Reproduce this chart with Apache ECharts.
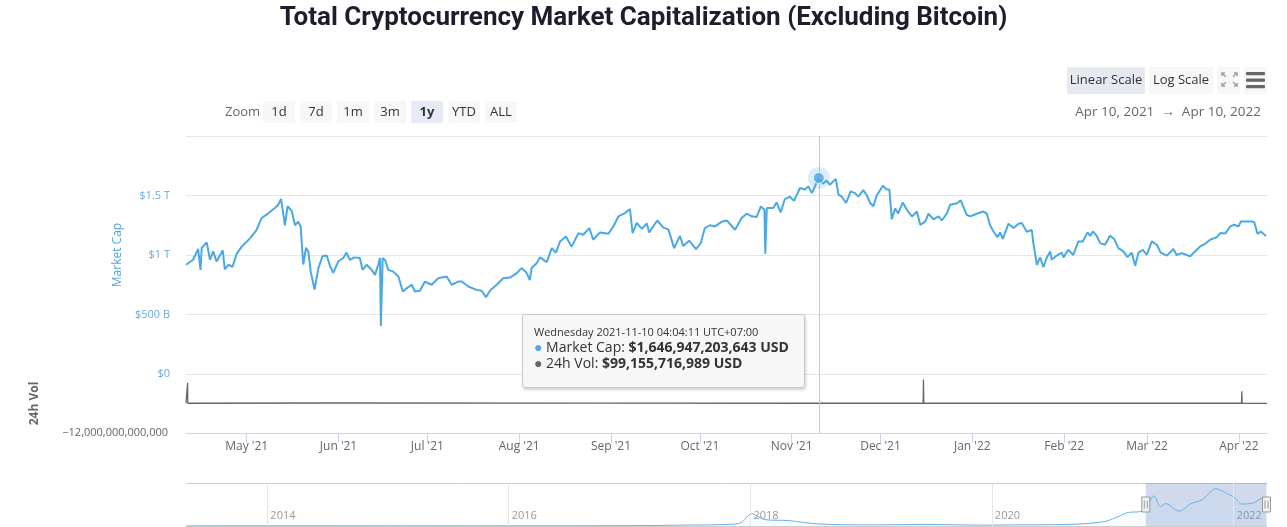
<!DOCTYPE html>
<html>
<head>
<meta charset="utf-8">
<script src="https://cdn.jsdelivr.net/npm/echarts@6/dist/echarts.min.js"></script>
<style>
html,body{margin:0;padding:0;background:#fff}
#c{width:1287px;height:527px}
</style>
</head>
<body>
<div id="c"></div>
<script>
// ---------------- DATA ----------------
// Market cap (excluding BTC), in trillions USD; time as days since 2021-04-10 00:00
const capDay = [0.5,2.9,4.6,5.4,5.8,7.5,8.6,9.7,10.8,12.9,13.6,14.8,16.2,17.6,19.3,22.1,24.3,26.0,28.3,30.5,31.6,32.6,33.9,34.8,36.2,37.3,38.4,39.2,40.1,41.0,41.8,42.6,43.9,45.2,46.6,48.0,49.1,50.2,51.9,53.6,54.7,55.8,57.5,59.2,60.1,61.5,63.2,64.3,65.4,66.0,66.3,66.9,67.7,68.8,70.5,72.2,73.7,75.0,76.7,77.8,79.5,81.2,83.4,85.7,88.5,90.2,92.4,
93.6,95.8,98.6,100.3,101.8,103.1,105.4,107.6,109.9,112.2,113.8,115.5,116.6,117.2,118.9,120.0,122.3,124.0,125.4,126.8,128.8,130.7,133.0,134.6,136.7,138.0,140.3,143.1,144.8,146.5,148.7,150.4,151.3,152.7,154.4,156.1,156.9,159.6,161.7,163.4,165.3,167.3,168.4,170.4,172.7,174.3,175.7,177.4,179.1,181.4,
183.1,185.9,188.1,189.8,191.5,193.2,194.6,195.8,196.1,196.6,198.8,199.9,201.3,202.7,204.4,205.8,207.8,209.5,210.6,211.8,214.17,215.5,216.8,217.9,219.9,220.8,221.9,223.4,224.9,226.4,227.5,229.2,230.4,231.5,232.6,233.7,235.8,237.1,238.0,238.8,239.9,241.0,242.5,243.9,245.6,247.3,248.4,250.1,251.2,252.9,254.6,255.7,257.4,258.5,260.8,262.1,264.1,265.3,267.5,269.7,270.9,272.0,273.1,274.5,
275.4,276.3,278.2,279.9,281.6,282.7,284.4,286.1,286.6,287.8,288.9,290.0,291.1,292.3,292.8,294.5,296.2,296.8,298.4,300.1,301.8,303.3,304.9,305.8,306.7,308.0,309.2,310.8,312.5,313.9,315.3,317.0,318.4,319.8,321.0,322.1,323.6,324.9,326.6,328.3,329.6,331.7,333.9,335.0,336.7,338.4,339.5,341.2,342.9,344.6,346.3,348.6,349.7,351.4,353.1,354.4,355.9,356.7,358.1,360.4,361.2,362.3,363.4,364.3,365.2];
const capT = [0.918,0.96,1.05,0.875,1.06,1.105,0.96,1.03,0.945,1.04,0.88,0.918,0.90,1.01,1.07,1.14,1.21,1.31,1.35,1.395,1.42,1.47,1.25,1.41,1.37,1.25,1.28,1.24,0.92,1.06,1.03,0.86,0.71,0.89,0.99,0.995,0.91,0.85,0.945,0.975,1.02,0.96,0.98,0.974,0.875,0.918,0.875,0.833,0.918,0.974,0.404,0.974,0.96,0.875,0.86,0.82,0.693,0.72,0.75,0.693,0.70,0.777,0.75,0.805,0.82,0.75,0.777,
0.777,0.735,0.707,0.70,0.645,0.70,0.75,0.805,0.81,0.848,0.89,0.85,0.79,0.89,0.93,0.98,0.94,1.058,1.02,1.114,1.156,1.07,1.184,1.17,1.226,1.128,1.19,1.178,1.24,1.324,1.352,1.386,1.184,1.27,1.22,1.265,1.19,1.29,1.23,1.215,1.058,1.16,1.075,1.12,1.05,1.10,1.226,1.25,1.24,1.28,
1.29,1.212,1.31,1.347,1.325,1.32,1.408,1.38,1.01,1.394,1.394,1.442,1.358,1.47,1.49,1.455,1.563,1.55,1.577,1.52,1.646947,1.60,1.625,1.59,1.64,1.507,1.49,1.437,1.535,1.52,1.49,1.545,1.50,1.437,1.41,1.50,1.582,1.55,1.55,1.30,1.39,1.35,1.442,1.38,1.324,1.366,1.254,1.28,1.347,1.30,1.325,1.29,1.347,1.422,1.435,1.459,1.338,1.325,1.347,1.366,1.347,1.25,1.20,1.15,
1.19,1.135,1.263,1.226,1.263,1.268,1.196,1.21,1.10,0.918,0.98,0.898,0.975,1.03,0.96,0.995,1.02,0.98,1.044,1.0,1.114,1.114,1.19,1.16,1.198,1.16,1.10,1.086,1.162,1.135,1.058,1.03,0.982,1.02,0.909,1.02,1.044,1.0,1.114,1.086,1.02,0.995,1.05,1.0,1.016,1.0,0.988,1.03,1.072,1.094,1.128,1.15,1.184,1.18,1.24,1.254,1.24,1.282,1.282,1.282,1.275,1.178,1.198,1.178,1.16];

// 24h volume, trillions USD (with the data spikes visible in the pane)
const volDay = [0.5,1.0,1.05,1.1,50,140,214.17,249.4,249.5,249.6,300,356.9,357.0,357.1,365.5];
const volT   = [0.1,0.1,8.4,0.1,0.2,0.12,0.099155716989,0.1,9.8,0.1,0.1,0.1,5.0,0.1,0.07];

// Navigator: full history, trillions USD
const navDate = ['2013-04-30','2014-01-01','2015-01-01','2016-01-01','2016-09-01','2017-03-01','2017-06-01','2017-10-01','2017-12-01','2018-01-05','2018-01-20','2018-02-15','2018-04-25','2018-07-25','2019-01-05','2019-06-15','2019-11-25','2020-03-10','2020-08-15','2020-12-05','2021-01-25','2021-02-17','2021-04-01','2021-05-05','2021-05-25','2021-06-10','2021-07-20','2021-08-25','2021-09-28','2021-11-08','2021-12-10','2022-01-05','2022-01-25','2022-03-01','2022-04-01','2022-04-10'];
const navT = [0.003,0.008,0.004,0.006,0.01,0.02,0.04,0.06,0.13,0.55,0.45,0.28,0.24,0.09,0.05,0.07,0.04,0.05,0.07,0.19,0.47,0.6,0.66,1.33,0.86,0.99,0.66,0.99,1.16,1.65,1.45,1.25,0.97,1.02,1.25,1.16];

// Tick labels
const monthTicks = ['2021-05-01','2021-06-01','2021-07-01','2021-08-01','2021-09-01','2021-10-01','2021-11-01','2021-12-01','2022-01-01','2022-02-01','2022-03-01','2022-04-01'];
const monthLabels = ["May '21","Jun '21","Jul '21","Aug '21","Sep '21","Oct '21","Nov '21","Dec '21","Jan '22","Feb '22","Mar '22","Apr '22"];
const capTicks = [0, 0.5, 1, 1.5, 2];
const capTickLabels = ['$0', '$500 B', '$1 T', '$1.5 T', ''];
const navYears = ['2014-01-01','2016-01-01','2018-01-01','2020-01-01','2022-01-01'];
const navYearLabels = ['2014','2016','2018','2020','2022'];

// Tooltip contents (hovered point)
const tipDay = 214.17;
const tipTime = 'Wednesday 2021-11-10 04:04:11 UTC+07:00';
const tipCap = 1646947203643;
const tipVol = 99155716989;

// Range
const rangeStartDay = 0.5, rangeEndDay = 365.5;
const rangeText = ['Apr 10, 2021', 'Apr 10, 2022'];

// ---------------- HELPERS ----------------
function ts(s) {
  const m = s.match(/(\d+)-(\d+)-(\d+)(?: (\d+):(\d+))?/);
  return new Date(+m[1], +m[2] - 1, +m[3], +(m[4] || 0), +(m[5] || 0)).getTime();
}
const base = ts('2021-04-10');
const dayTs = d => base + d * 864e5;
const xMin = dayTs(rangeStartDay), xMax = dayTs(rangeEndDay);
const monthTs = monthTicks.map(ts);
const navYearTs = navYears.map(ts);
const tipIdx = capDay.indexOf(tipDay);
const tipTs = dayTs(capDay[tipIdx]);
const fmt = n => n.toLocaleString('en-US');

const capData = capDay.map((d, i) => [dayTs(d), capT[i]]);
const volData = volDay.map((d, i) => [dayTs(d), volT[i]]);
const navData = navDate.map((d, i) => [ts(d), navT[i]]);

const FONT = "'Open Sans', sans-serif";
const BLUE = '#4aa8e4';

// ---------------- UI (buttons, range text) ----------------
const ui = [];
function txt(x, y, s, o) {
  o = o || {};
  ui.push({type: 'text', x: x, y: y, silent: true, style: {
    text: s, fill: o.color || '#333',
    font: (o.bold ? 'bold ' : '') + (o.size || 13) + 'px ' + FONT,
    align: o.align || 'left', verticalAlign: 'middle'
  }});
}
function btn(x, y, w, h, s, fill, bold) {
  ui.push({type: 'rect', silent: true, shape: {x: x, y: y, width: w, height: h, r: 1}, style: {fill: fill}});
  txt(x + w / 2, y + h / 2, s, {align: 'center', bold: bold});
}
txt(225, 112, 'Zoom', {color: '#666'});
const zoomBtns = ['1d', '7d', '1m', '3m', '1y', 'YTD', 'ALL'];
zoomBtns.forEach((b, i) => btn(263 + i * 37, 101, 32, 22, b, b === '1y' ? '#e6ebf5' : '#f7f7f7', b === '1y'));
btn(1067, 67, 78, 27, 'Linear Scale', '#e6e9ef', false);
btn(1149, 67, 64, 27, 'Log Scale', '#f7f7f7', false);
ui.push({type: 'rect', silent: true, shape: {x: 1217, y: 67, width: 23, height: 27}, style: {fill: '#f7f7f7'}});
ui.push({type: 'rect', silent: true, shape: {x: 1244, y: 67, width: 23, height: 27}, style: {fill: '#f7f7f7'}});
// fullscreen icon
[[[1222,76],[1222,73],[1225,73]],[[1234,73],[1237,73],[1237,76]],[[1222,83],[1222,86],[1225,86]],[[1237,83],[1237,86],[1234,86]]].forEach(p => {
  ui.push({type: 'polyline', silent: true, shape: {points: p}, style: {stroke: '#a0a0a0', lineWidth: 1.5, fill: null}});
});
[[[1222,73],[1226,77]],[[1237,73],[1233,77]],[[1222,86],[1226,82]],[[1237,86],[1233,82]]].forEach(p => {
  ui.push({type: 'polyline', silent: true, shape: {points: p}, style: {stroke: '#a0a0a0', lineWidth: 1.2, fill: null}});
});
// menu icon
[72, 78.5, 85].forEach(y => ui.push({type: 'rect', silent: true, shape: {x: 1246, y: y, width: 19, height: 3.2, r: 1}, style: {fill: '#666'}}));
txt(1261, 112, rangeText[0] + '  \u2192  ' + rangeText[1], {color: '#666', align: 'right', size: 13.5});

// ---------------- CHART ----------------
const chart = echarts.init(document.getElementById('c'));

const tipHtml =
  '<div style="font-size:11px;line-height:15px;color:#333">' + tipTime + '</div>' +
  '<div style="font-size:14px;line-height:16px;color:#333"><span style="color:' + BLUE + '">\u25CF</span> Market Cap: <b>$' + fmt(tipCap) + ' USD</b></div>' +
  '<div style="font-size:14px;line-height:16px;color:#333"><span style="color:#666">\u25CF</span> 24h Vol: <b>$' + fmt(tipVol) + ' USD</b></div>';

const monthFmt = v => { const i = monthTs.indexOf(v); return i >= 0 ? monthLabels[i] : ''; };
const yearFmt = v => { const i = navYearTs.indexOf(v); return i >= 0 ? navYearLabels[i] : ''; };

chart.setOption({
  animation: false,
  textStyle: {fontFamily: FONT},
  title: {
    text: 'Total Cryptocurrency Market Capitalization (Excluding Bitcoin)',
    left: 'center', top: 0,
    textStyle: {fontFamily: 'Roboto', fontWeight: 'bold', fontSize: 26, color: '#1d1d2b'}
  },
  graphic: ui,
  tooltip: {
    trigger: 'item', triggerOn: 'none', alwaysShowContent: true,
    position: [522, 314], transitionDuration: 0,
    backgroundColor: 'rgba(247,247,247,0.96)', borderColor: '#c9c9c9', borderWidth: 1,
    padding: [9, 11, 8, 11],
    extraCssText: 'box-shadow:1px 2px 3px rgba(0,0,0,0.18);border-radius:3px;width:283px;height:74px;box-sizing:border-box;font-family:"Open Sans",sans-serif;',
    formatter: () => tipHtml
  },
  grid: [
    {left: 186, right: 20, top: 136, height: 238},
    {left: 186, right: 20, top: 374, height: 59},
    {left: 186, right: 20, top: 483, bottom: 1}
  ],
  xAxis: [
    {type: 'value', gridIndex: 0, min: xMin, max: xMax, scale: true,
     axisLine: {show: false}, axisTick: {show: false}, axisLabel: {show: false}, splitLine: {show: false}},
    {type: 'value', gridIndex: 1, min: xMin, max: xMax, scale: true,
     axisLine: {show: true, onZero: false, lineStyle: {color: '#ccd6eb', width: 1}},
     axisTick: {show: true, customValues: monthTs, length: 10, lineStyle: {color: '#ccd6eb'}},
     axisLabel: {customValues: monthTs, margin: 8, color: '#666', fontSize: 12, fontFamily: FONT, formatter: monthFmt},
     splitLine: {show: false}},
    {type: 'value', gridIndex: 2, min: ts('2013-04-30'), max: ts('2022-04-12'), scale: true,
     axisLine: {show: false, onZero: false}, axisTick: {show: false}, splitLine: {show: false},
     axisLabel: {customValues: navYearTs, inside: true, align: 'left', padding: [0, 0, 0, 3], margin: 5,
       color: '#999', fontSize: 11, fontFamily: FONT, formatter: yearFmt}}
  ],
  yAxis: [
    {type: 'value', gridIndex: 0, min: 0, max: 2, interval: 0.5,
     axisLine: {show: false}, axisTick: {show: false},
     axisLabel: {margin: 16, color: '#6fa8d9', fontSize: 11, fontFamily: FONT, showMaxLabel: false,
       formatter: v => { const i = capTicks.indexOf(v); return i >= 0 ? capTickLabels[i] : ''; }},
     splitLine: {lineStyle: {color: '#e6e6e6', width: 1}},
     name: 'Market Cap', nameLocation: 'middle', nameGap: 62,
     nameTextStyle: {color: '#4ba6e0', fontSize: 12, fontFamily: FONT}},
    {type: 'value', gridIndex: 1, min: -12, max: 12, interval: 24,
     axisLine: {show: false}, axisTick: {show: false},
     axisLabel: {margin: 18, color: '#666', fontSize: 11, fontFamily: FONT, showMaxLabel: false,
       formatter: v => v < 0 ? fmt(v * 1e12).replace('-', '\u2212') : ''},
     splitLine: {lineStyle: {color: '#e6e6e6', width: 1}},
     name: '24h Vol', nameLocation: 'middle', nameGap: 145,
     nameTextStyle: {color: '#666', fontSize: 12, fontWeight: 'bold', fontFamily: FONT}},
    {type: 'value', gridIndex: 2, min: 0, max: 1.9, interval: 1.9,
     axisLine: {show: false}, axisTick: {show: false}, axisLabel: {show: false},
     splitLine: {lineStyle: {color: '#cccccc', width: 1}}}
  ],
  series: [
    {type: 'line', name: 'Market Cap', xAxisIndex: 0, yAxisIndex: 0, data: capData,
     showSymbol: false, symbol: 'none', lineStyle: {color: BLUE, width: 2}, itemStyle: {color: BLUE},
     silent: true, z: 3,
     markLine: {silent: true, symbol: 'none', label: {show: false}, animation: false,
       lineStyle: {color: '#c8c8c8', width: 1, type: 'solid'}, data: [{xAxis: tipTs}]}},
    {type: 'line', name: '24h Vol', xAxisIndex: 1, yAxisIndex: 1, data: volData,
     showSymbol: false, symbol: 'none', lineStyle: {color: '#666', width: 1.3}, silent: true,
     markLine: {silent: true, symbol: 'none', label: {show: false}, animation: false,
       lineStyle: {color: '#c8c8c8', width: 1, type: 'solid'}, data: [{xAxis: tipTs}]}},
    {type: 'line', name: 'nav', xAxisIndex: 2, yAxisIndex: 2, data: navData, smooth: 0.3,
     showSymbol: false, symbol: 'none', lineStyle: {color: '#68b0e6', width: 1},
     areaStyle: {color: 'rgba(74,168,228,0.05)'}, silent: true,
     markLine: {silent: true, symbol: 'none', label: {show: false}, animation: false,
       lineStyle: {color: '#e6e6e6', width: 1, type: 'solid'}, data: navYearTs.map(t => ({xAxis: t}))},
     markArea: {silent: true, itemStyle: {color: 'rgba(102,133,194,0.3)'}, data: [[{xAxis: xMin}, {xAxis: xMax}]]}},
    {type: 'scatter', xAxisIndex: 0, yAxisIndex: 0, data: [[tipTs, capT[tipIdx]]], symbolSize: 22,
     itemStyle: {color: 'rgba(74,168,228,0.25)'}, emphasis: {disabled: true}, silent: true, z: 5, tooltip: {show: false}},
    {type: 'scatter', xAxisIndex: 0, yAxisIndex: 0, data: [[tipTs, capT[tipIdx]]], symbolSize: 11,
     itemStyle: {color: BLUE, borderColor: '#ffffff', borderWidth: 1}, emphasis: {disabled: true}, z: 6}
  ]
});

// navigator handles at the selected range edges
try {
  const handles = [];
  const hy = chart.convertToPixel({yAxisIndex: 2}, 0.95);
  [xMin, xMax].forEach(t => {
    const hx = chart.convertToPixel({xAxisIndex: 2}, t);
    handles.push({type: 'rect', silent: true, z: 100, shape: {x: hx - 4, y: hy - 7.5, width: 8, height: 15}, style: {fill: '#f2f2f2', stroke: '#999', lineWidth: 1}});
    handles.push({type: 'line', silent: true, z: 101, shape: {x1: hx - 1.5, y1: hy - 4, x2: hx - 1.5, y2: hy + 4}, style: {stroke: '#999', lineWidth: 1}});
    handles.push({type: 'line', silent: true, z: 101, shape: {x1: hx + 1.5, y1: hy - 4, x2: hx + 1.5, y2: hy + 4}, style: {stroke: '#999', lineWidth: 1}});
  });
  chart.setOption({graphic: ui.concat(handles)});
} catch (e) { console.log(e); }

chart.dispatchAction({type: 'showTip', seriesIndex: 4, dataIndex: 0});
</script>
</body>
</html>
